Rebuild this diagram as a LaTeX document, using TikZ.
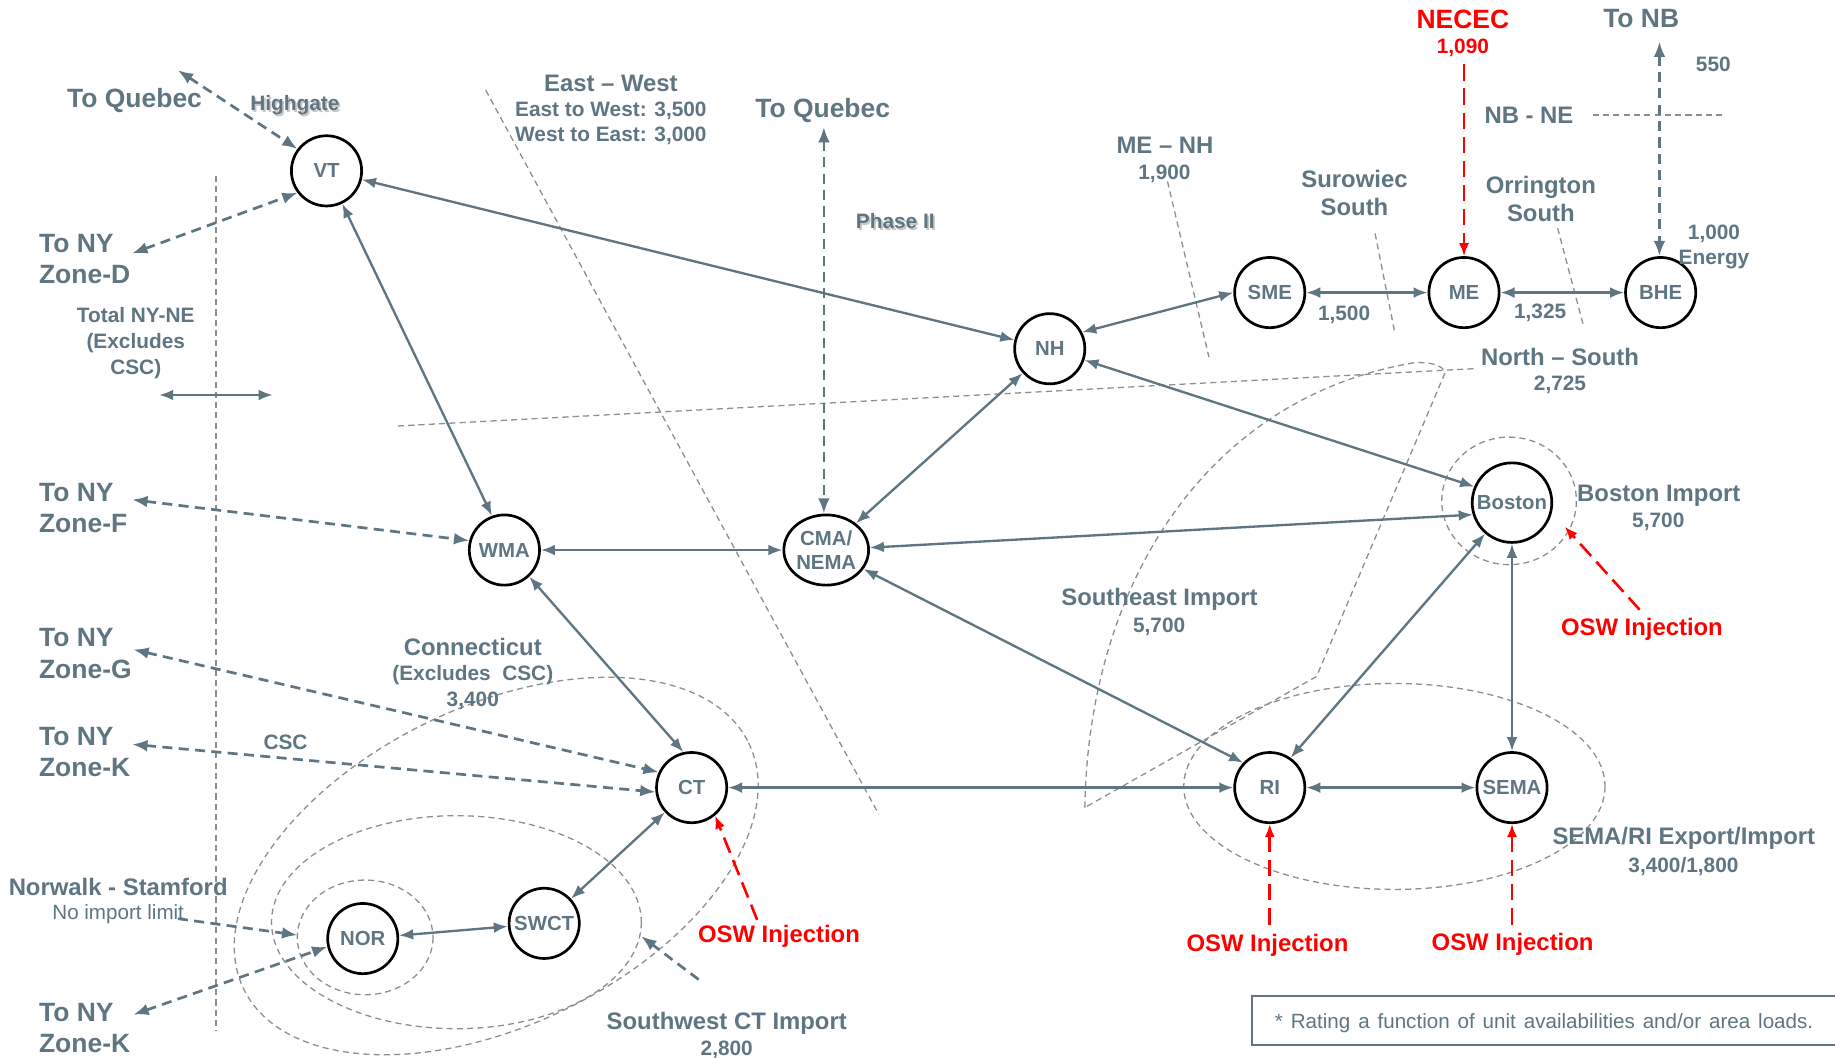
\documentclass[tikz,border=0pt]{standalone}
\usepackage{fontspec}
\setmainfont{Liberation Sans}
\usetikzlibrary{arrows.meta,shapes.geometric}
\definecolor{slate}{HTML}{5F7682}
\definecolor{dgray}{HTML}{8E8E8E}
\definecolor{ored}{HTML}{FF0000}
\begin{document}
\begin{tikzpicture}[x=0.5pt,y=-0.5pt,
 area/.style={circle, draw=black, line width=1.15pt, fill=white, minimum size=30pt, inner sep=0pt, text=slate, align=center, font=\bfseries\fontsize{8.7}{10.5}\selectfont},
 conn/.style={draw=slate, line width=1pt, {Latex[length=6pt,width=4.6pt]}-{Latex[length=6pt,width=4.6pt]}},
 dconn/.style={draw=slate, line width=1.15pt, dash pattern=on 4.3pt off 2.7pt, {Latex[length=6.5pt,width=5pt]}-{Latex[length=6.5pt,width=5pt]}},
 dsingle/.style={draw=slate, line width=1.15pt, dash pattern=on 4.3pt off 2.7pt, -{Latex[length=6.5pt,width=5pt]}},
 rarrow/.style={draw=ored, line width=1.1pt, dash pattern=on 7pt off 3.3pt, -{Latex[length=5.6pt,width=4.4pt]}},
 bnd/.style={draw=dgray, line width=0.55pt, dash pattern=on 2.6pt off 1.8pt},
 lbl/.style={inner sep=0pt, text=slate, align=center, font=\bfseries\fontsize{8.9}{11}\selectfont},
 med/.style={lbl, font=\bfseries\fontsize{10.2}{12.2}\selectfont},
 big/.style={lbl, font=\bfseries\fontsize{11.3}{13.5}\selectfont},
 osw/.style={med, text=ored},
 shadowtxt/.style={lbl, text=black!22}
]
\useasboundingbox (0,0) rectangle (1568,904);
\fill[white] (0,0) rectangle (1568,904);

% ---- boundary lines
\draw[bnd] (184.5,150) -- (184.5,881);
\draw[bnd] (415,77) -- (751,696);
\draw[bnd] (340,364) -- (1260,315);
\draw[bnd] (997.6,155) -- (1033,305);
\draw[bnd] (1175,199.5) -- (1192,285);
\draw[bnd] (1331,195) -- (1353.5,280);
\draw[bnd] (1361,98.3) -- (1472,98.3);
\draw[bnd] (927,690) .. controls (930,500) and (1030,340) .. (1208,310) .. controls (1222,309) and (1232,312) .. (1235,318) -- (1125,578) -- cycle;
\draw[bnd, rotate around={26:(424,740)}] (424,740) ellipse [x radius=240, y radius=136];
\draw[bnd] (390,788) ellipse [x radius=158, y radius=91];
\draw[bnd] (312,801) ellipse [x radius=58, y radius=49];
\draw[bnd] (1289.5,428) ellipse [x radius=57.5, y radius=54.5];
\draw[bnd] (1191.5,672) ellipse [x radius=180, y radius=88];

% ---- area nodes
\node[area] (VT) at (279,146) {VT};
\node[area] (NH) at (897,298) {NH};
\node[area] (SME) at (1085,250) {SME};
\node[area] (ME) at (1251,250) {ME};
\node[area] (BHE) at (1419,250) {BHE};
\node[area] (WMA) at (431,470) {WMA};
\node[area, ellipse, minimum width=33pt, minimum height=30pt] (CMA) at (706,470) {CMA/\\NEMA};
\node[area, minimum size=34pt] (Boston) at (1292,429.5) {Boston};
\node[area] (CT) at (591,673) {CT};
\node[area] (RI) at (1085,673) {RI};
\node[area] (SEMA) at (1292,673) {SEMA};
\node[area] (NOR) at (310,802) {NOR};
\node[area] (SWCT) at (465,789) {SWCT};

% ---- solid connectors
\draw[conn] (VT) -- (NH);
\draw[conn] (VT) -- (WMA.110);
\draw[conn] (NH.27) -- (SME.west);
\draw[conn] (SME) -- (ME);
\draw[conn] (ME) -- (BHE);
\draw[conn] (NH) -- (CMA);
\draw[conn] (NH) -- (Boston.157);
\draw[conn] (WMA) -- (CMA);
\draw[conn] (CMA) -- (Boston.197);
\draw[conn] (CMA) -- (RI.137);
\draw[conn] (WMA.-47) -- (CT.103);
\draw[conn] (CT) -- (RI);
\draw[conn] (RI.55) -- (Boston);
\draw[conn] (RI) -- (SEMA);
\draw[conn] (Boston) -- (SEMA);
\draw[conn] (CT) -- (SWCT);
\draw[conn] (SWCT) -- (NOR);
\coordinate (tnA) at (136,337.5);
\coordinate (tnB) at (233,337.5);
\draw[conn] (tnA) -- (tnB);

% ---- dashed tie lines
\coordinate (qHigh) at (152,60);
\draw[dconn] (qHigh) -- (VT.143);
\coordinate (nyD) at (113,216.5);
\draw[dconn] (nyD) -- (VT.217);
\coordinate (nyF) at (113,427);
\draw[dconn] (nyF) -- (WMA.165);
\coordinate (nyG) at (114,555);
\draw[dconn] (nyG) -- (CT.155);
\coordinate (nyK) at (113,636);
\draw[dconn] (nyK) -- (CT.187);
\coordinate (nyK2) at (114,867);
\draw[dconn] (nyK2) -- (NOR.193);
\coordinate (qPh) at (704,108.6);
\draw[dconn] (qPh) -- (qPh |- CMA.north);
\coordinate (nbTop) at (1418,35.6);
\draw[dconn] (nbTop) -- (nbTop |- BHE.north);
\coordinate (nilA) at (152,785);
\coordinate (nilB) at (254,799);
\draw[dsingle] (nilA) -- (nilB);
\coordinate (swA) at (597,837);
\coordinate (swB) at (548,800);
\draw[dsingle] (swA) -- (swB);

% ---- red injections
\coordinate (necA) at (1251,55);
\draw[rarrow] (necA) -- (necA |- ME.north);
\coordinate (oswCTa) at (647,786);
\draw[rarrow] (oswCTa) -- (CT.-50);
\coordinate (oswBa) at (1401,521);
\coordinate (oswBb) at (1337,450);
\draw[rarrow] (oswBa) -- (oswBb);
\coordinate (oswRIa) at (1085,790);
\draw[rarrow] (oswRIa) -- (RI.south);
\coordinate (oswSEa) at (1292,790);
\draw[rarrow] (oswSEa) -- (SEMA.south);

% ---- labels
\node[big] (tq1) at (115,86) {To Quebec};
\node[shadowtxt] (hgS) at (253.5,91.5) {Highgate};
\node[lbl] (hg) at (252,90) {Highgate};
\node[big, anchor=west, align=left] (zD) at (33,221.5) {To NY\\Zone-D};
\node[lbl] (tot) at (116,293) {Total NY-NE\\(Excludes\\CSC)};
\node[big, anchor=west, align=left] (zF) at (33,434) {To NY\\Zone-F};
\node[big, anchor=west, align=left] (zG) at (33,558.5) {To NY\\Zone-G};
\node[big, anchor=west, align=left] (zK) at (33,642.5) {To NY\\Zone-K};
\node[big, anchor=west, align=left] (zK2) at (33,878.5) {To NY\\Zone-K};
\node[lbl] (csc) at (244,634) {CSC};
\node[med] (conn1) at (404,553) {Connecticut};
\node[lbl] (conn2) at (404,577) {(Excludes\ \ CSC)};
\node[lbl] (conn3) at (404,599) {3,400};
\node[med] (nor1) at (101,758) {Norwalk - Stamford};
\node[lbl, font=\fontsize{8.8}{11}\selectfont] (nor2) at (101,781) {No import limit};
\node[med] (ew1) at (522,71) {East – West};
\node[lbl] (ew2) at (522,94.8) {East to West: 3,500};
\node[lbl] (ew3) at (522,116.2) {West to East: 3,000};
\node[big] (tq2) at (703,94.8) {To Quebec};
\node[shadowtxt] (phS) at (766.5,190.3) {Phase II};
\node[lbl] (ph) at (765,188.8) {Phase II};
\node[med] (menh1) at (995.5,124.5) {ME – NH};
\node[lbl] (menh2) at (995,148.7) {1,900};
\node[med] (sur) at (1157.4,165) {Surowiec\\South};
\node[big, text=ored] (nec1) at (1250,16.5) {NECEC};
\node[lbl, text=ored] (nec2) at (1250,40.7) {1,090};
\node[big] (tonb) at (1402.4,15.7) {To NB};
\node[lbl] (n550) at (1464,54.7) {550};
\node[med] (nbne) at (1306.5,98.3) {NB - NE};
\node[med] (orr) at (1316.6,170) {Orrington\\South};
\node[lbl] (en) at (1464.6,211) {1,000\\Energy};
\node[lbl] (l1500) at (1148.5,269.2) {1,500};
\node[lbl] (l1325) at (1316,267.7) {1,325};
\node[med] (ns1) at (1333,304.8) {North – South};
\node[lbl] (ns2) at (1333,329) {2,725};
\node[med] (bi1) at (1417.4,423.5) {Boston Import};
\node[lbl] (bi2) at (1417,446) {5,700};
\node[osw] (oswB) at (1403,538) {OSW Injection};
\node[med] (se1) at (990.8,511.8) {Southeast Import};
\node[lbl] (se2) at (990.5,535.5) {5,700};
\node[osw] (oswCT) at (665.6,799.8) {OSW Injection};
\node[osw] (oswRI) at (1083,808) {OSW Injection};
\node[osw] (oswSE) at (1292.5,807) {OSW Injection};
\node[med] (sr1) at (1438.8,716.6) {SEMA/RI Export/Import};
\node[lbl] (sr2) at (1438.5,740.5) {3,400/1,800};
\node[med] (sw1) at (621,874) {Southwest CT Import};
\node[lbl] (sw2) at (621,897) {2,800};

% ---- note box
\draw[slate, line width=1pt] (1620,851) -- (1070,851) -- (1070,893) -- (1620,893);
\node[inner sep=0pt, anchor=west, text=slate, font=\fontsize{8.8}{11}\selectfont] (note) at (1089,874) {\makebox[230pt][s]{* Rating a function of unit availabilities and/or area loads.}};
\end{tikzpicture}
\end{document}
